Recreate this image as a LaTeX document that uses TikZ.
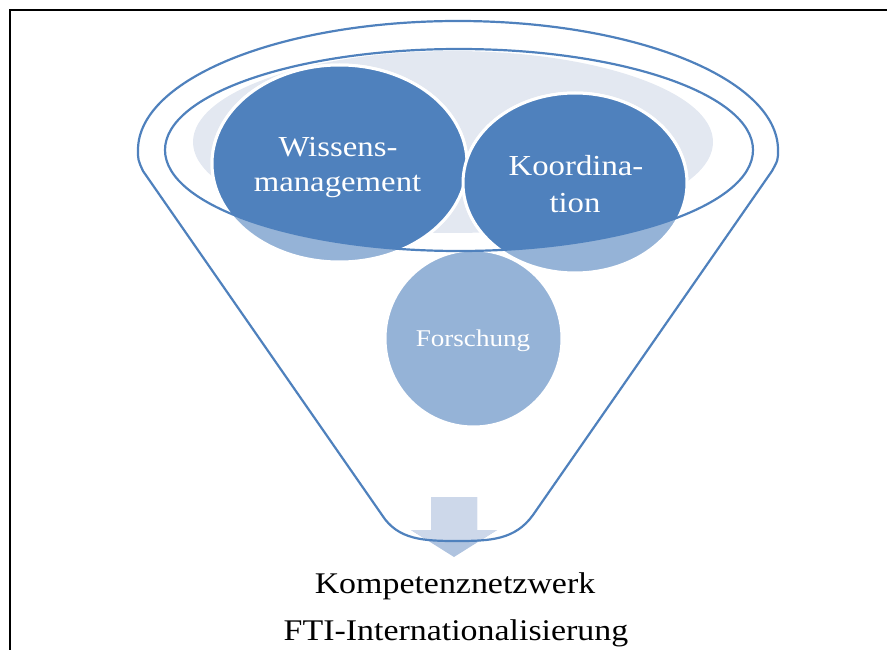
\documentclass[tikz,border=0pt]{standalone}
\usepackage{fontspec}
\setmainfont{Liberation Serif}
\newfontfamily\wfont[FakeStretch=1.13]{Liberation Serif}
\definecolor{dkblue}{HTML}{4F81BD}
\definecolor{ltblue}{HTML}{95B3D7}
\definecolor{grayfill}{HTML}{E3E8F1}
\definecolor{arrowlt}{HTML}{CDD8EA}
\definecolor{arrowdk}{HTML}{AFC3DF}
\tikzset{
  circlight/.style={fill=ltblue, draw=white, line width=3pt},
  circdark/.style={fill=dkblue, draw=white, line width=3pt},
  funnelline/.style={draw=dkblue, line width=2.2pt, line join=round},
  ctext/.style={text=white, inner sep=0pt, anchor=base, font=\wfont\fontsize{29}{29}\selectfont},
  ftext/.style={text=white, inner sep=0pt, anchor=base, font=\wfont\fontsize{24}{24}\selectfont},
  btext/.style={text=black, inner sep=0pt, anchor=base, font=\wfont\fontsize{30}{30}\selectfont}
}
\begin{document}
\begin{tikzpicture}[x=1pt,y=1pt,yscale=-1]
\useasboundingbox (0,0) rectangle (887,650);
% frame
\draw[line width=1.5pt] (10,652) -- (10,10) -- (889,10);
% light gray ellipse
\fill[grayfill] (453,142) ellipse[x radius=260pt, y radius=91pt];
% circles (light, outside funnel mouth)
\path[circlight] (473.5,338.5) circle[radius=88.5pt];
\path[circlight] (339.5,163.5) ellipse[x radius=127.5pt, y radius=98.5pt];
\path[circlight] (575,183) ellipse[x radius=112pt, y radius=90pt];
% circles (dark, inside funnel mouth)
\begin{scope}
  \clip (459,150) ellipse[x radius=294pt, y radius=101pt];
  \path[circdark] (473.5,338.5) circle[radius=88.5pt];
  \path[circdark] (339.5,163.5) ellipse[x radius=127.5pt, y radius=98.5pt];
  \path[circdark] (575,183) ellipse[x radius=112pt, y radius=90pt];
\end{scope}
% arrow
\fill[arrowdk] (431,497) -- (477,497) -- (477,530) -- (497,530) -- (454,557) -- (411,530) -- (431,530) -- cycle;
\begin{scope}
  \clip (138,150) arc[start angle=180, end angle=360, x radius=320pt, y radius=129pt]
    .. controls (778,160) .. (772,171) -- (533,515)
    .. controls (515,540) and (490,541) .. (457,541)
    .. controls (424,541) and (398,540) .. (382,515) -- (143,171)
    .. controls (138,160) .. cycle;
  \fill[arrowlt] (431,497) -- (477,497) -- (477,530) -- (497,530) -- (454,557) -- (411,530) -- (431,530) -- cycle;
\end{scope}
% funnel outlines
\path[funnelline] (138,150) arc[start angle=180, end angle=360, x radius=320pt, y radius=129pt]
    .. controls (778,160) .. (772,171) -- (533,515)
    .. controls (515,540) and (490,541) .. (457,541)
    .. controls (424,541) and (398,540) .. (382,515) -- (143,171)
    .. controls (138,160) .. cycle;
\path[funnelline] (459,150) ellipse[x radius=294pt, y radius=101pt];
% texts
\node[ctext] (w1) at (338,157) {Wissens-};
\node[ctext] (w2) at (337.5,192) {management};
\node[ctext] (k1) at (576,176) {Koordina-};
\node[ctext] (k2) at (575,212) {tion};
\node[ftext] (f) at (473,346) {Forschung};
\node[btext] (b1) at (455,593) {Kompetenznetzwerk};
\node[btext] (b2) at (456,640) {FTI-Internationalisierung};
\end{tikzpicture}
\end{document}
